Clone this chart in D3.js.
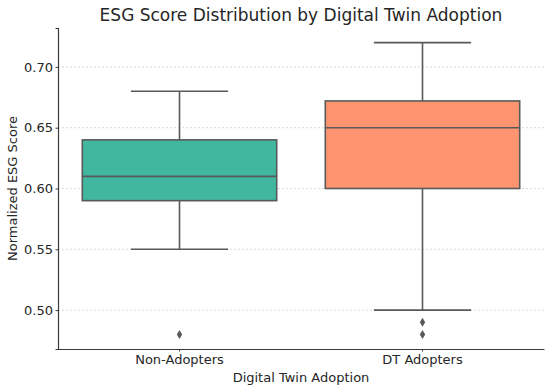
<!DOCTYPE html>
<html>
<head>
<meta charset="utf-8">
<script src="https://cdn.jsdelivr.net/npm/d3@7"></script>
<style>
  body { margin: 0; background: #fff; }
  text { font-family: "DejaVu Sans", sans-serif; fill: #262626; }
</style>
</head>
<body>
<div id="chart"></div>
<script>
// data
const groups = ["Non-Adopters", "DT Adopters"];
const whiskerLow = [0.55, 0.50];
const q1 = [0.59, 0.60];
const median = [0.61, 0.65];
const q3 = [0.64, 0.672];
const whiskerHigh = [0.68, 0.72];
const outliers = [[0.48], [0.49, 0.48]];
const yTicks = [0.50, 0.55, 0.60, 0.65, 0.70];
const colors = ["#41b79f", "#fe9570"];

const width = 550, height = 387;
const margin = {top: 28, right: 6, bottom: 38, left: 58};

const svg = d3.select("#chart").append("svg")
  .attr("width", width)
  .attr("height", height);

const x = d3.scaleBand()
  .domain(groups)
  .range([margin.left, width - margin.right])
  .paddingInner(0.2)
  .paddingOuter(0.1);

const y = d3.scaleLinear()
  .domain([0.468, 0.732])
  .range([height - margin.bottom, margin.top]);

// horizontal grid
svg.append("g")
  .selectAll("line")
  .data(yTicks)
  .enter()
  .append("line")
  .attr("x1", margin.left)
  .attr("x2", width - margin.right)
  .attr("y1", d => y(d))
  .attr("y2", d => y(d))
  .attr("stroke", "#d0d0d0")
  .attr("stroke-width", 0.8)
  .attr("stroke-dasharray", "2,2");

// axes
const yAxis = svg.append("g")
  .attr("transform", `translate(${margin.left},0)`)
  .call(d3.axisLeft(y).tickValues(yTicks).tickFormat(d3.format(".2f")).tickSize(2.5).tickPadding(2.5));
yAxis.select(".domain").attr("stroke", "#3a3a3a").attr("stroke-width", 1.2);
yAxis.selectAll(".tick line").attr("stroke", "#3a3a3a");
yAxis.selectAll("text").style("font-size", "13px").attr("fill", "#262626");

const xAxis = svg.append("g")
  .attr("transform", `translate(0,${height - margin.bottom})`)
  .call(d3.axisBottom(x).tickSize(2.5).tickPadding(3.5).tickSizeOuter(0));
xAxis.select(".domain").attr("stroke", "#3a3a3a").attr("stroke-width", 1.2);
xAxis.selectAll(".tick line").attr("stroke", "#3a3a3a");
xAxis.selectAll("text").style("font-size", "13px").attr("fill", "#262626");

const lineColor = "#595959";
const bw = x.bandwidth();

const box = svg.append("g")
  .selectAll("g")
  .data(groups)
  .enter()
  .append("g");

// whiskers
box.append("line")
  .attr("x1", d => x(d) + bw / 2).attr("x2", d => x(d) + bw / 2)
  .attr("y1", (d, i) => y(whiskerLow[i])).attr("y2", (d, i) => y(q1[i]))
  .attr("stroke", lineColor).attr("stroke-width", 1.6);
box.append("line")
  .attr("x1", d => x(d) + bw / 2).attr("x2", d => x(d) + bw / 2)
  .attr("y1", (d, i) => y(q3[i])).attr("y2", (d, i) => y(whiskerHigh[i]))
  .attr("stroke", lineColor).attr("stroke-width", 1.6);
// caps
box.append("line")
  .attr("x1", d => x(d) + bw / 4).attr("x2", d => x(d) + bw * 3 / 4)
  .attr("y1", (d, i) => y(whiskerLow[i])).attr("y2", (d, i) => y(whiskerLow[i]))
  .attr("stroke", lineColor).attr("stroke-width", 1.6);
box.append("line")
  .attr("x1", d => x(d) + bw / 4).attr("x2", d => x(d) + bw * 3 / 4)
  .attr("y1", (d, i) => y(whiskerHigh[i])).attr("y2", (d, i) => y(whiskerHigh[i]))
  .attr("stroke", lineColor).attr("stroke-width", 1.6);
// box
box.append("rect")
  .attr("x", d => x(d))
  .attr("width", bw)
  .attr("y", (d, i) => y(q3[i]))
  .attr("height", (d, i) => y(q1[i]) - y(q3[i]))
  .attr("fill", (d, i) => colors[i])
  .attr("stroke", lineColor)
  .attr("stroke-width", 1.6);
// median
box.append("line")
  .attr("x1", d => x(d)).attr("x2", d => x(d) + bw)
  .attr("y1", (d, i) => y(median[i])).attr("y2", (d, i) => y(median[i]))
  .attr("stroke", lineColor).attr("stroke-width", 1.6);

// outliers as diamonds
const diamond = "M0,-4.5L2.7,0L0,4.5L-2.7,0Z";
groups.forEach((g, i) => {
  svg.append("g").selectAll("path")
    .data(outliers[i])
    .enter()
    .append("path")
    .attr("d", diamond)
    .attr("transform", d => `translate(${x(g) + bw / 2},${y(d)})`)
    .attr("fill", lineColor);
});

// title and labels
svg.append("text")
  .attr("x", (margin.left + width - margin.right) / 2)
  .attr("y", 21)
  .attr("text-anchor", "middle")
  .style("font-size", "17px")
  .text("ESG Score Distribution by Digital Twin Adoption");

svg.append("text")
  .attr("x", (margin.left + width - margin.right) / 2)
  .attr("y", height - 5)
  .attr("text-anchor", "middle")
  .style("font-size", "13px")
  .text("Digital Twin Adoption");

svg.append("text")
  .attr("transform", `translate(17,${(margin.top + height - margin.bottom) / 2}) rotate(-90)`)
  .attr("text-anchor", "middle")
  .style("font-size", "13px")
  .text("Normalized ESG Score");
</script>
</body>
</html>
